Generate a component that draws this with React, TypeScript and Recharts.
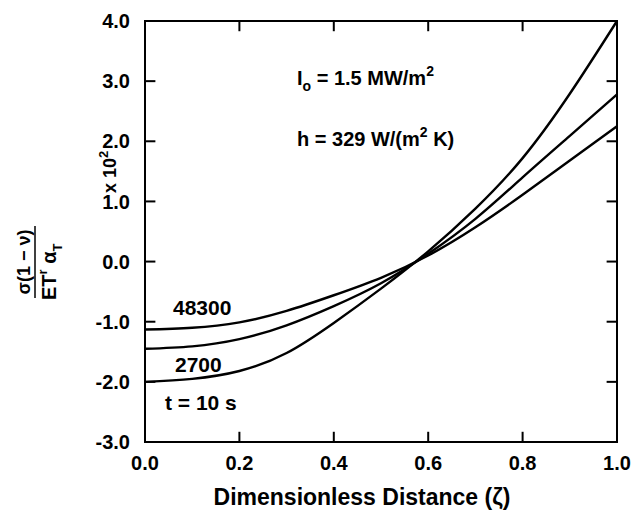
import { LineChart, Line, XAxis, YAxis, ReferenceLine } from "recharts"

// dimensionless distance
const zeta = [0, 0.1, 0.2, 0.3, 0.4, 0.5, 0.6, 0.7, 0.8, 0.9, 1.0]
// stress values (x 10^2) per time
const t48300 = [-1.13, -1.1, -1.01, -0.82, -0.56, -0.27, 0.1, 0.57, 1.11, 1.68, 2.25]
const t2700 = [-1.45, -1.41, -1.29, -1.06, -0.74, -0.36, 0.13, 0.71, 1.4, 2.09, 2.78]
const t10 = [-2.0, -1.95, -1.82, -1.52, -1.02, -0.45, 0.17, 0.88, 1.72, 2.79, 4.0]

const xTicks = [0, 0.2, 0.4, 0.6, 0.8, 1.0]
const xTicksInner = [0.2, 0.4, 0.6, 0.8]
const yTicks = [-3, -2, -1, 0, 1, 2, 3, 4]
const yTicksInner = [-2, -1, 0, 1, 2, 3]

const data = zeta.map((z, i) => ({ x: z, a: t10[i], b: t2700[i], c: t48300[i] }))

const font = "'Liberation Sans', Arial, sans-serif"
const tickStyle = { fill: "#000", fontSize: 20, fontWeight: 700, fontFamily: font }
// inward tick length, in data units (~10px)
const tkX = 0.022
const tkY = 0.17

const App = () => {
    return (
        <div style={{ position: "absolute", left: 0, top: 0, width: 633, height: 516, background: "#fff" }}>
            <LineChart width={633} height={516} data={data} margin={{ top: 21, right: 16, bottom: 34, left: 85 }}>
                <XAxis xAxisId="b" dataKey="x" type="number" domain={[0, 1]} ticks={xTicks}
                    tickFormatter={(v) => v.toFixed(1)} height={40} axisLine={false} tickLine={false}
                    tickSize={10} tickMargin={4} tick={tickStyle} />
                <YAxis yAxisId="l" type="number" domain={[-3, 4]} ticks={yTicks}
                    tickFormatter={(v) => v.toFixed(1)} width={60} axisLine={false} tickLine={false}
                    tickSize={10} tickMargin={5} tick={tickStyle} />

                {/* inward ticks */}
                {xTicksInner.map((v) => (
                    <ReferenceLine key={"b" + v} xAxisId="b" yAxisId="l" stroke="#000" strokeWidth={2}
                        segment={[{ x: v, y: -3 }, { x: v, y: -3 + tkY }]} />
                ))}
                {xTicksInner.map((v) => (
                    <ReferenceLine key={"t" + v} xAxisId="b" yAxisId="l" stroke="#000" strokeWidth={2}
                        segment={[{ x: v, y: 4 }, { x: v, y: 4 - tkY }]} />
                ))}
                {yTicksInner.map((v) => (
                    <ReferenceLine key={"l" + v} xAxisId="b" yAxisId="l" stroke="#000" strokeWidth={2}
                        segment={[{ x: 0, y: v }, { x: tkX, y: v }]} />
                ))}
                {yTicksInner.map((v) => (
                    <ReferenceLine key={"r" + v} xAxisId="b" yAxisId="l" stroke="#000" strokeWidth={2}
                        segment={[{ x: 1, y: v }, { x: 1 - tkX, y: v }]} />
                ))}

                <Line xAxisId="b" yAxisId="l" type="natural" dataKey="a" stroke="#000" strokeWidth={2.4} dot={false} isAnimationActive={false} />
                <Line xAxisId="b" yAxisId="l" type="natural" dataKey="b" stroke="#000" strokeWidth={2.4} dot={false} isAnimationActive={false} />
                <Line xAxisId="b" yAxisId="l" type="natural" dataKey="c" stroke="#000" strokeWidth={2.4} dot={false} isAnimationActive={false} />
            </LineChart>
            <svg width={633} height={516} style={{ position: "absolute", left: 0, top: 0, pointerEvents: "none" }}
                fontFamily={font} fontWeight={700} fill="#000">
                {/* plot frame (plot box = margins + axis sizes above) */}
                <rect x={145} y={21} width={472} height={421} fill="none" stroke="#000" strokeWidth={2} />
                {/* y axis title, rotated fraction */}
                <g transform="translate(35,262) rotate(-90)">
                    <text x={0} y={-5} fontSize={18} textAnchor="middle">σ(1 − ν)</text>
                    <line x1={-36} y1={0} x2={36} y2={0} stroke="#000" strokeWidth={1.5} />
                    <text x={-38} y={21} fontSize={20}>
                        ET<tspan fontSize={13} dy={-9}>r</tspan>
                        <tspan fontSize={20} dy={9}> α</tspan>
                        <tspan fontSize={13} dy={6}>T</tspan>
                    </text>
                </g>
                <g transform="translate(116,193) rotate(-90)">
                    <text x={0} y={0} fontSize={18}>x 10<tspan fontSize={13} dy={-8}>2</tspan></text>
                </g>
                <text x={297} y={85} fontSize={20}>
                    I<tspan fontSize={14} dy={6}>o</tspan>
                    <tspan dy={-6}> = 1.5 MW/m</tspan>
                    <tspan fontSize={14} dy={-9}>2</tspan>
                </text>
                <text x={297} y={146} fontSize={20}>
                    h = 329 W/(m<tspan fontSize={14} dy={-9}>2</tspan>
                    <tspan dy={9}> K)</tspan>
                </text>
                <text x={173} y={315} fontSize={21}>48300</text>
                <text x={175} y={372} fontSize={21}>2700</text>
                <text x={165} y={410} fontSize={21}>t = 10 s</text>
                <text x={362} y={505} fontSize={23} textAnchor="middle">Dimensionless Distance (ζ)</text>
            </svg>
        </div>
    )
}

export default App
